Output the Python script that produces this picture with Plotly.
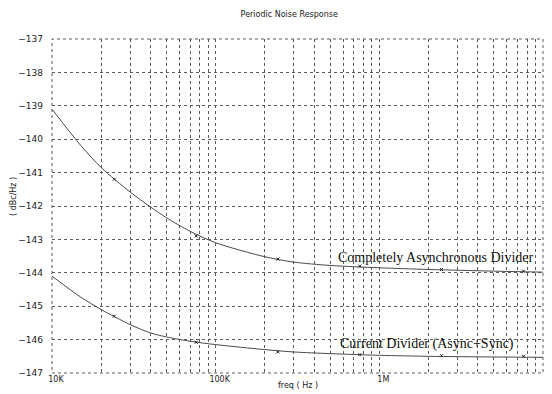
import plotly.graph_objects as go

# ---- data ----
freq = [1e4, 1.5e4, 2e4, 3e4, 4e4, 5e4, 7e4, 1e5, 2e5, 3e5, 5e5, 1e6, 2e6, 5e6, 1e7]
async_div = [-139.1, -140.19, -140.85, -141.58, -142.03, -142.35, -142.76, -143.1,
             -143.52, -143.68, -143.78, -143.85, -143.9, -143.95, -143.98]
current_div = [-144.1, -144.73, -145.1, -145.55, -145.8, -145.92, -146.05, -146.15,
               -146.3, -146.37, -146.42, -146.47, -146.5, -146.52, -146.53]

marker_freq = [2.4e4, 7.6e4, 2.4e5, 7.6e5, 2.4e6, 7.6e6]
async_marks = [-141.2, -142.9, -143.59, -143.8, -143.9, -143.95]
current_marks = [-145.3, -146.08, -146.37, -146.45, -146.48, -146.5]

x_tickvals = [1e4, 1e5, 1e6, 1e7]
x_ticktext = ["10K", "100K", "1M", "10M"]
y_tickvals = list(range(-147, -136))

label_async = "Completely Asynchronous Divider"
label_current = "Current Divider (Async+Sync)"

LINE = "#4a4a4a"
GRID = "#5a5a5a"

fig = go.Figure()
for ys in (async_div, current_div):
    fig.add_trace(go.Scatter(x=freq, y=ys, mode="lines",
                             line=dict(color=LINE, width=1, shape="spline", smoothing=0.8),
                             showlegend=False, hoverinfo="skip"))
for ys in (async_marks, current_marks):
    fig.add_trace(go.Scatter(x=marker_freq, y=ys, mode="markers",
                             marker=dict(symbol="x-thin", size=3, color="#222",
                                         line=dict(width=1, color="#222")),
                             showlegend=False, hoverinfo="skip"))

fig.add_annotation(x=5.735, y=-143.55, text=label_async, showarrow=False,
                   xanchor="left",
                   font=dict(family="Liberation Serif", size=14, color="#111"))
fig.add_annotation(x=5.747, y=-146.12, text=label_current, showarrow=False,
                   xanchor="left",
                   font=dict(family="Liberation Serif", size=14, color="#111"))

# dotted frame around the plot area
fig.add_shape(type="rect", xref="paper", yref="paper", x0=0, y0=0, x1=1, y1=1,
              line=dict(color=GRID, width=1, dash="dot"), layer="below")

small = dict(family="DejaVu Sans", size=8, color="#222")

# axis titles
fig.add_annotation(xref="paper", yref="paper", x=0.5, y=0, yshift=-12,
                   text="freq ( Hz )", showarrow=False, font=small,
                   xanchor="center", yanchor="middle")
fig.add_annotation(xref="paper", yref="paper", x=0, xshift=-39, y=0.5, yshift=9,
                   text="( dBc/Hz )", showarrow=False, font=small, textangle=-90,
                   xanchor="center", yanchor="middle")

fig.update_layout(
    width=552, height=394,
    margin=dict(l=52, r=9, t=39, b=21),
    paper_bgcolor="white", plot_bgcolor="white",
    font=small,
    title=dict(text="Periodic Noise Response", x=0.524, xanchor="center",
               y=0.965, yanchor="middle", font=dict(family="DejaVu Sans", size=8, color="#222")),
    xaxis=dict(type="log", range=[4, 7], automargin=False,
               tickvals=x_tickvals, ticktext=x_ticktext,
               showgrid=True, gridcolor=GRID, griddash="dot", gridwidth=1,
               minor=dict(showgrid=True, gridcolor=GRID, griddash="dot", gridwidth=1,
                          tickvals=[m * 10 ** e for e in (4, 5, 6) for m in range(2, 10)]),
               showline=False, zeroline=False, ticks="",
               ticklabelshift=4, ticklabelstandoff=0,
               tickfont=small),
    yaxis=dict(range=[-147, -137], tickvals=y_tickvals, automargin=False,
               showgrid=True, gridcolor=GRID, griddash="dot", gridwidth=1,
               showline=False, zeroline=False, ticks="",
               ticklabelstandoff=8,
               tickfont=dict(family="DejaVu Sans", size=9, color="#222")),
)

fig.write_html("out.html")
